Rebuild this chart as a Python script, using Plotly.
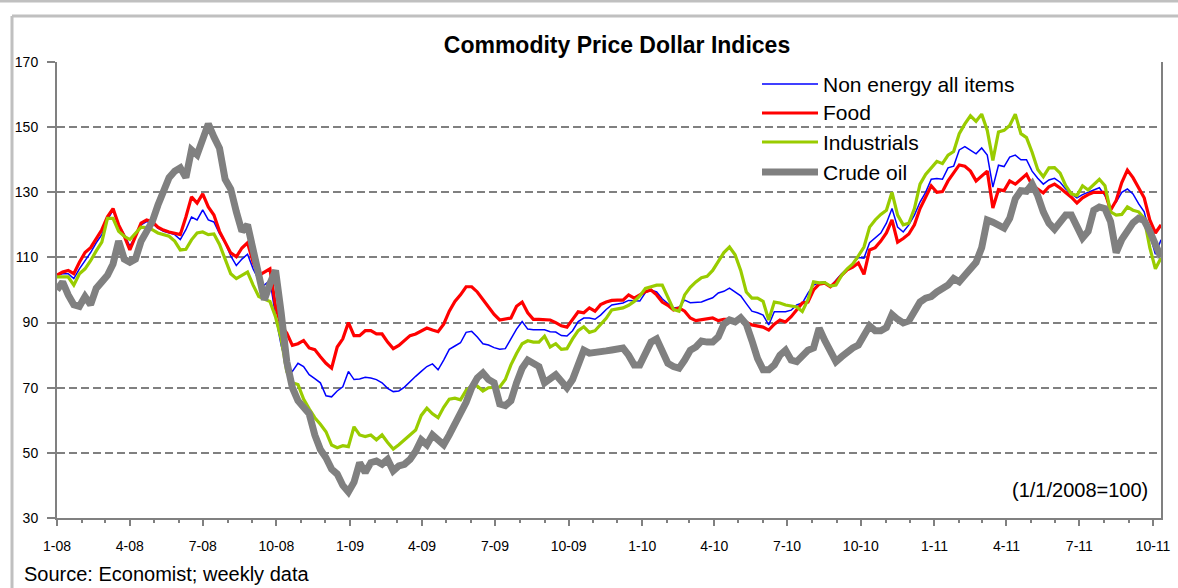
import pandas as pd
import plotly.graph_objects as go

# ---------------- data (weekly, 1 Jan 2008 = 100) ----------------
dates = pd.date_range("2008-01-01", periods=198, freq="7D")

non_energy = [
    104.5, 105, 105, 103.5, 106.5, 109, 111.5, 114.5, 117, 121.5,
    124.5, 120, 117, 113.5, 116.5, 120, 121, 120.5, 119, 118,
    117.5, 117, 115.5, 118.5, 122.4, 121.5, 124.6, 121.5, 120.9, 117.3,
    114.5, 110.5, 107.5, 109.5, 111, 106.5, 103, 101.5, 103, 92,
    83, 76.4, 75, 77.5, 76.5, 74, 72.8, 71.5, 67.5, 67.2,
    69, 70.3, 75, 72.5, 72.7, 73.2, 73, 72.5, 71.5, 69.8,
    68.8, 69, 70.2, 72, 73.5, 75, 76.5, 77.3, 75.5, 78.5,
    81.8, 82.8, 83.8, 87, 87.3, 85.6, 83.5, 83.1, 82.3, 81.8,
    82, 85, 88, 90.3, 88, 87.8, 87.7, 87.8, 87.2, 87.1,
    86, 85.9, 87.5, 90.3, 91.4, 91.4, 91, 92.3, 94, 95.4,
    95.7, 96, 96.8, 96.6, 96.6, 99.2, 100, 99.4, 97.3, 95.8, 94.5,
    94.7, 96.9, 96.1, 96.2, 96.3, 97, 97.6, 99.1, 99.6, 100.6,
    99.5, 98.2, 95.8, 93.5, 93, 92.3, 89.3, 93.3, 93.3, 93.3,
    93.8, 95.4, 96, 99, 101.5, 102.2, 102.5, 101, 103, 105,
    106.5, 108, 110, 109.8, 114.5, 116, 117.5, 120.5, 125, 119.3,
    117.8, 120, 123, 127, 130, 134, 134.2, 134, 137.5, 138,
    143, 144, 143, 141.8, 143.6, 141.4, 131.6, 138.3, 137.9, 140.8,
    141.4, 140, 140, 136.5, 134.3, 132.5, 133.8, 134.3, 133.1, 131,
    129.5, 128.3, 129.3, 129.9, 130.7, 131.4, 129, 125.2, 127, 130,
    131, 129.5, 126.5, 124, 117, 111, 115.4,
]

food = [
    104.6, 105.5, 106, 105, 108.5, 111.5, 113, 116, 118.5, 122.5,
    125, 120, 116.5, 112.3, 116.5, 120.5, 121.5, 121, 119.3, 118.4,
    117.8, 117.3, 117, 122.4, 128.6, 126.7, 129.5, 125.5, 123, 118,
    114.5, 111.4, 110.2, 112.9, 114.5, 108.5, 104.5, 105.5, 106.5, 95,
    89, 86.8, 83, 83.5, 84.5, 82.2, 81.7, 79.5, 77.5, 76,
    82.5, 85, 90, 86, 86, 87.5, 87.5, 86.5, 86.5, 84,
    82, 83, 84.5, 86, 86.5, 87.5, 88.3, 87.7, 87.2, 89.5,
    93.5, 96.5, 98.5, 101, 101, 99.4, 97, 94.5, 92.5, 90.8,
    91, 91.4, 95, 96.3, 93, 91, 91, 90.8, 90.8, 90,
    89, 88.6, 91, 93.3, 93, 94.5, 93.5, 95.5, 96.3, 96.8,
    96.9, 96.9, 98.5, 97.5, 98.5, 99.5, 100, 98.5, 96.3, 95.3, 93.9,
    94.5, 93.5, 91.4, 90.6, 90.8, 91, 91.4, 90.6, 91, 91,
    90.8, 91.2, 90, 89.3, 89, 88.6, 87.7, 89.5, 90.8, 90.2,
    91.8, 94, 96, 96.3, 100, 101.8, 102.1, 101, 102.5, 104.5,
    106.2, 107, 108.3, 104.8, 112.3, 113, 115, 117.5, 121.5, 114.7,
    115.8, 117.2, 120, 125, 128.5, 132, 130, 130.2, 133.5, 135.9,
    138.4, 138, 136.5, 133.5, 135, 136.5, 125.2, 130.8, 130.5, 133.5,
    132.5, 134, 135.5, 132.2, 131, 129.8, 131.7, 132.5, 131.3, 130,
    128.5, 126.7, 128.3, 129.3, 130, 130, 130, 124.5, 127.5, 133,
    136.8, 134.5, 131.5, 128.3, 121.5, 117.5, 120,
]

industrials = [
    104, 104, 104, 101.5, 105, 106.5, 109, 112, 114.7, 122,
    122, 118, 116.5, 115.5, 117.5, 119.3, 119.2, 118.5, 117.5, 117,
    116.5, 115, 112.3, 112.5, 115.4, 117.5, 117.8, 117, 117.2, 114,
    109.5, 105, 103.5, 104.5, 105.5, 101.5, 98, 97.2, 96.5, 91.7,
    85, 75, 71.5, 71, 66.5, 63.5, 60.8, 58.8, 56.5, 52.4,
    51.6, 52.2, 51.9, 58, 55.5, 55, 55.5, 54, 55.5, 53.2,
    51.2, 52.5, 54, 55.8, 57, 61.5, 63.7, 62, 60.8, 64,
    66.5, 66.8, 66.3, 69.2, 70.6, 70.5, 69, 70, 70, 70.2,
    72.5, 77, 80.5, 83.5, 84.4, 84, 84, 85.8, 82.5, 83.5,
    81.8, 82, 85, 87.5, 88.7, 87, 87.5, 89.3, 91.3, 93.9,
    94.2, 94.5, 95.3, 96.5, 98.2, 100.5, 101, 101.5, 101.5, 97.5, 94,
    93.5, 98.5, 100.8, 102.5, 103.8, 104.2, 106, 108.8, 111.5, 113.2,
    110.8, 106, 99.4, 97.5, 97.5, 96.5, 90.8, 96.3, 96, 95.4,
    95.2, 94.8, 93.4, 97, 102.5, 102.2, 102.3, 101.2, 101.5, 104.5,
    106.5, 108, 110.5, 113.2, 119.3, 121.5, 123.2, 124.5, 130, 123,
    120, 120.5, 125, 132.5, 135.5, 137.5, 139.5, 138.8, 141.4, 142.5,
    148, 151, 153.5, 151.8, 154, 149, 139.8, 148.5, 149, 150.5,
    154, 148, 146.8, 142.3, 137, 134.8, 137.5, 137.6, 135.9, 132,
    129.5, 129, 132, 130.7, 132.5, 134, 132, 124, 123, 123.2,
    125.5, 124.5, 124, 122, 113, 106.5, 109.8,
]

crude_oil = [
    100, 102.5, 98.5, 95.5, 95, 98, 95.5, 100.5, 102.5, 104.5,
    108, 115, 109.5, 108.5, 109.5, 115, 118, 121, 126, 130,
    134.5, 136.5, 137.5, 134.5, 143, 141.5, 146, 151, 147, 143.5,
    134, 131, 124, 118, 120, 113, 106, 97, 102, 106,
    93, 78, 70, 66, 64, 62, 55.5, 51, 48.5, 45,
    43.5, 40, 38, 41, 47, 44, 47, 47.5, 46.5, 48,
    44.5, 46, 46.5, 48, 50.5, 54, 52.5, 55.5, 54, 52.5,
    55.5, 59, 61.5, 65.5, 70, 73, 74.5, 72.5, 71.5, 65,
    64.5, 66, 71.5, 76, 78.5, 77.5, 76.5, 71.5, 73, 74,
    72, 70, 72.5, 77, 81.5, 80.6, 81, 81, 81.3, 81.6,
    81.9, 82.2, 80, 77, 77, 80.5, 84, 85, 81.6, 77.5, 76.5,
    76, 78.5, 81.5, 82.5, 84.3, 84, 84, 85.6, 89.5, 90.8,
    90.2, 91.5, 89.5, 84.5, 79, 75.5, 75.5, 77, 80, 81.5,
    78.5, 78, 80, 81.5, 82.2, 88.3, 84.5, 81.5, 78, 79.5,
    81, 82.2, 83.1, 86, 89, 87.5, 87.5, 88.5, 92.5, 91,
    89.9, 90.5, 94, 96.3, 97.5, 98, 99.4, 100.5, 101.5, 103.5,
    102.5, 104.5, 106.8, 108.5, 113, 121.5, 120.8, 120, 119, 122,
    128, 130.5, 130.3, 132.5, 129, 124, 120.5, 118.7, 120.6, 123,
    123, 119.5, 116, 118, 124.5, 125.5, 125, 121, 111.5, 115.5,
    118, 120.6, 122, 121.3, 118, 114, 110,
]

series_names = ["Non energy all items", "Food", "Industrials", "Crude oil"]
series_values = [non_energy, food, industrials, crude_oil]

tick_dates = pd.date_range("2008-01-01", "2011-10-01", freq="3MS")
tick_labels = ["1-08", "4-08", "7-08", "10-08", "1-09", "4-09", "7-09", "10-09",
               "1-10", "4-10", "7-10", "10-10", "1-11", "4-11", "7-11", "10-11"]
y_ticks = [30, 50, 70, 90, 110, 130, 150, 170]

# ---------------- styling ----------------
colors = ["#0000FF", "#FF0000", "#99CC00", "#808080"]
widths = [1.5, 3.2, 3.2, 7]
FONT = "Liberation Sans, Arial, sans-serif"
W, H = 1178, 588
L, R, T, B = 57, 17, 62, 70
PW, PH = W - L - R, H - T - B


def px_x(x):
    return (x - L) / PW


def px_y(y):
    return (H - B - y) / PH


fig = go.Figure()
for name, vals, c, w in zip(series_names, series_values, colors, widths):
    fig.add_trace(go.Scatter(x=dates[:len(vals)], y=vals, mode="lines", name=name,
                             line=dict(color=c, width=w), showlegend=False))

shapes = []
annotations = []
# manual legend
leg_y = [84, 113, 142, 172]
for name, c, w, ly in zip(series_names, colors, widths, leg_y):
    shapes.append(dict(type="line", xref="paper", yref="paper",
                       x0=px_x(762), x1=px_x(818), y0=px_y(ly), y1=px_y(ly),
                       line=dict(color=c, width=w)))
    annotations.append(dict(text=name, xref="paper", yref="paper",
                            x=px_x(821), y=px_y(ly), xanchor="left", yanchor="middle",
                            showarrow=False, font=dict(family=FONT, size=21, color="#000")))

# outer frame
frame_col = "#C0C0C0"
shapes.append(dict(type="line", xref="paper", yref="paper", x0=px_x(0), x1=px_x(W + 5),
                   y0=px_y(1), y1=px_y(1), line=dict(color=frame_col, width=3)))
shapes.append(dict(type="line", xref="paper", yref="paper", x0=px_x(12), x1=px_x(W + 5),
                   y0=px_y(16), y1=px_y(16), line=dict(color=frame_col, width=3)))
shapes.append(dict(type="line", xref="paper", yref="paper", x0=px_x(12), x1=px_x(12),
                   y0=px_y(16), y1=px_y(H + 5), line=dict(color=frame_col, width=3)))

annotations.append(dict(text="(1/1/2008=100)", xref="paper", yref="paper",
                        x=px_x(1150), y=px_y(490), xanchor="right", yanchor="middle",
                        showarrow=False, font=dict(family=FONT, size=20, color="#000")))
annotations.append(dict(text="Source: Economist; weekly data", xref="paper", yref="paper",
                        x=px_x(22), y=px_y(574), xanchor="left", yanchor="middle",
                        showarrow=False, font=dict(family=FONT, size=20, color="#000")))

fig.update_layout(
    width=W, height=H, autosize=False,
    margin=dict(l=L, r=R, t=T, b=B, autoexpand=False),
    paper_bgcolor="white", plot_bgcolor="white",
    title=dict(text="<b>Commodity Price Dollar Indices</b>", x=px_x(617), xref="paper",
               xanchor="center", y=1 - 45 / H, yref="container", yanchor="middle",
               font=dict(family=FONT, size=23, color="#000"), automargin=False),
    shapes=shapes, annotations=annotations,
    showlegend=False,
)

fig.update_xaxes(
    type="date", range=[dates[0], dates[-1]], automargin=False,
    tickmode="array", tickvals=list(tick_dates), ticktext=tick_labels,
    ticks="outside", ticklen=6, tickwidth=1.5, tickcolor="#808080",
    minor=dict(dtick="M1", tick0="2008-01-01", ticks="outside", ticklen=3,
               tickcolor="#808080", tickwidth=1.5, showgrid=False),
    showline=True, linecolor="#808080", linewidth=2,
    showgrid=False, zeroline=False,
    tickfont=dict(family=FONT, size=14, color="#000"),
    ticklabelstandoff=8,
)
fig.update_yaxes(
    range=[30, 170], tickmode="array", tickvals=y_ticks, automargin=False,
    ticks="outside", ticklen=8, tickwidth=1.5, tickcolor="#808080",
    showline=True, linecolor="#808080", linewidth=2, mirror=True,
    showgrid=True, gridcolor="#808080", gridwidth=1.5, griddash="8px,4px",
    zeroline=False,
    tickfont=dict(family=FONT, size=14, color="#000"),
    ticklabelstandoff=6,
)

fig.write_html("out.html",
               config={"displayModeBar": False, "responsive": False},
               default_width="1178px", default_height="588px",
               post_script="document.body.style.margin='0px';"
                           "document.body.style.overflow='hidden';")
